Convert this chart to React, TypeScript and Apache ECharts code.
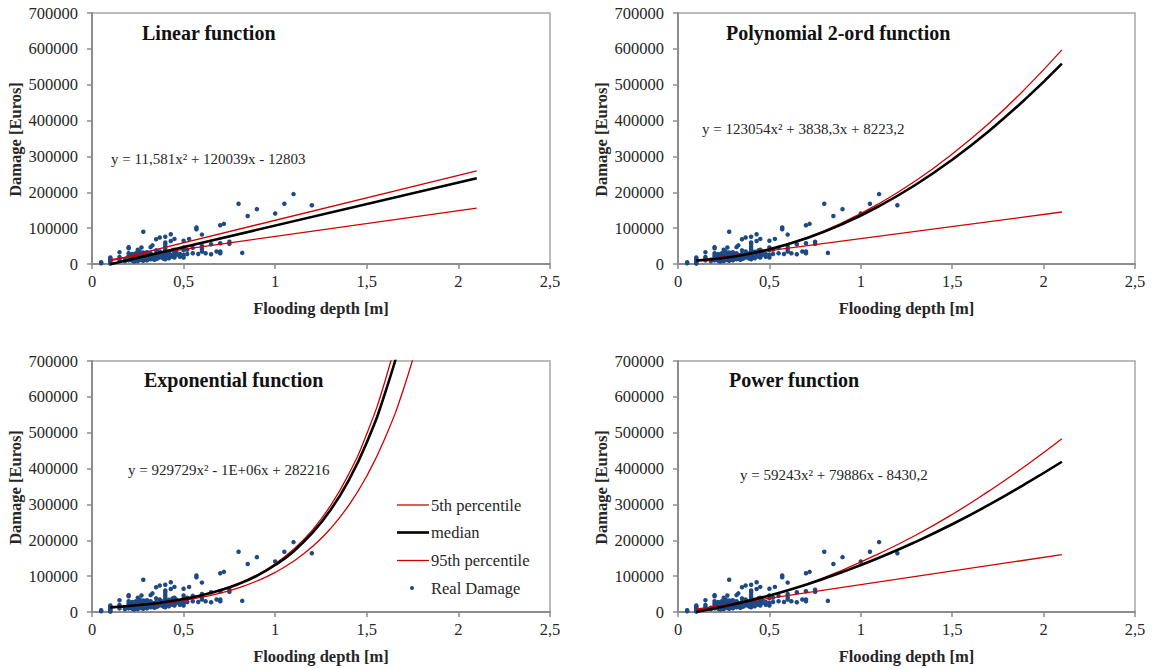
import React, { useEffect, useRef } from "react";
import * as echarts from "echarts";

const panelTitles = ["Linear function", "Polynomial 2-ord function", "Exponential function", "Power function"];
const equations = [
  "y = 11,581x² + 120039x - 12803",
  "y = 123054x² + 3838,3x + 8223,2",
  "y = 929729x² - 1E+06x + 282216",
  "y = 59243x² + 79886x - 8430,2",
];
const legendNames = ["5th percentile", "median", "95th percentile", "Real Damage"];
const xAxisTitle = "Flooding depth [m]";
const yAxisTitle = "Damage [Euros]";

// Real damage observations [depth m, damage euros]
const realDamage: [number, number][] = [
  [0.05, 5000], [0.05, 2000],
  [0.1, 18000], [0.1, 15000], [0.1, 12000], [0.1, 9000], [0.1, 6000], [0.1, 3000], [0.1, 1000],
  [0.15, 33000], [0.15, 20000], [0.15, 15000], [0.15, 10000],
  [0.18, 12000], [0.18, 8000],
  [0.2, 47000], [0.2, 44000], [0.2, 30000], [0.2, 24000], [0.2, 18000], [0.2, 14000], [0.2, 10000],
  [0.21, 20000], [0.21, 12000],
  [0.22, 28000], [0.22, 15000], [0.22, 9000],
  [0.23, 22000], [0.23, 13000], [0.23, 7000],
  [0.24, 30000], [0.24, 18000], [0.24, 10000],
  [0.25, 40000], [0.25, 25000], [0.25, 16000], [0.25, 12000], [0.25, 8000],
  [0.26, 35000], [0.26, 20000], [0.26, 14000],
  [0.27, 46000], [0.27, 28000], [0.27, 18000], [0.27, 11000],
  [0.28, 90000], [0.28, 32000], [0.28, 22000], [0.28, 15000], [0.28, 9000],
  [0.29, 25000], [0.29, 17000], [0.29, 12000],
  [0.3, 33000], [0.3, 28000], [0.3, 20000], [0.3, 15000], [0.3, 10000],
  [0.31, 22000], [0.31, 16000],
  [0.32, 47000], [0.32, 30000], [0.32, 19000], [0.32, 13000],
  [0.33, 52000], [0.33, 25000], [0.33, 15000],
  [0.34, 20000], [0.34, 12000],
  [0.35, 69000], [0.35, 38000], [0.35, 28000], [0.35, 18000], [0.35, 14000],
  [0.36, 24000], [0.36, 16000],
  [0.37, 74000], [0.37, 35000], [0.37, 20000],
  [0.38, 30000], [0.38, 18000],
  [0.39, 25000], [0.39, 15000],
  [0.4, 76000], [0.4, 60000], [0.4, 55000], [0.4, 48000], [0.4, 42000], [0.4, 36000], [0.4, 30000], [0.4, 24000], [0.4, 18000], [0.4, 13000],
  [0.41, 28000], [0.41, 20000],
  [0.42, 34000], [0.42, 16000],
  [0.43, 83000], [0.43, 64000], [0.43, 25000],
  [0.44, 38000], [0.44, 20000],
  [0.45, 70000], [0.45, 40000], [0.45, 30000], [0.45, 18000],
  [0.46, 35000], [0.46, 25000],
  [0.48, 28000], [0.48, 20000],
  [0.5, 65000], [0.5, 46000], [0.5, 38000], [0.5, 25000], [0.5, 18000],
  [0.52, 40000], [0.52, 28000],
  [0.53, 70000],
  [0.55, 45000], [0.55, 30000],
  [0.57, 102000], [0.57, 97000],
  [0.58, 28000],
  [0.6, 82000], [0.6, 50000], [0.6, 42000], [0.6, 35000],
  [0.62, 30000],
  [0.65, 55000], [0.65, 27000],
  [0.68, 35000],
  [0.7, 108000], [0.7, 58000], [0.7, 35000], [0.7, 30000],
  [0.72, 112000],
  [0.75, 62000], [0.75, 56000],
  [0.8, 168000], [0.82, 31000], [0.85, 134000], [0.9, 153000],
  [1.0, 141000], [1.05, 168000], [1.1, 195000], [1.2, 164000],
];

// Linear function curves
const linDepth = [0.1, 2.1];
const linP5 = [12000, 156000];
const linMedian = [-800, 239300];
const linP95 = [9000, 260000];

// Polynomial 2-ord curves
const polyDepth = [0.1, 0.3, 0.5, 0.7, 0.9, 1.1, 1.3, 1.5, 1.7, 1.9, 2.1];
const polyMedian = [9800, 20400, 40900, 71200, 111400, 161300, 221000, 290900, 370400, 459700, 559000];
const polyP95 = [8000, 19500, 41000, 73000, 115500, 168500, 232000, 307000, 392000, 489000, 597000];
const polyP5Depth = [0.1, 2.1];
const polyP5 = [10000, 145000];

// Exponential curves
const expDepth = [0.1, 0.2, 0.3, 0.4, 0.5, 0.6, 0.7, 0.8, 0.9, 1.0, 1.1, 1.2, 1.3, 1.4, 1.5, 1.6, 1.7, 1.8];
const expMedian = [13000, 16700, 21600, 28000, 36000, 46800, 60500, 78000, 101000, 131000, 169000, 219000, 283000, 366000, 473000, 611000, 790000, 1020000];
const expP95 = [13500, 17300, 22200, 28600, 36900, 47700, 61700, 79800, 103500, 134500, 175000, 227000, 295000, 383000, 497000, 645000, 838000, 1080000];
const expP5 = [12000, 15400, 19700, 25200, 32200, 41200, 52800, 67500, 86400, 110600, 141500, 181000, 231600, 296500, 379400, 485500, 621300, 795000];

// Power function curves
const powDepth = [0.1, 0.3, 0.5, 0.7, 0.9, 1.1, 1.3, 1.5, 1.7, 1.9, 2.1];
const powMedian = [200, 21000, 46000, 76000, 111500, 151100, 195600, 244700, 298500, 357000, 419000];
const powP95 = [5000, 22000, 45000, 77000, 117000, 163000, 214000, 272000, 337000, 407000, 483000];
const powP5Depth = [0.1, 2.1];
const powP5 = [8000, 160000];

const zip = (xs: number[], ys: number[]) => xs.map((x, i) => [x, ys[i]]);

const FONT = "'Liberation Serif', 'Times New Roman', serif";
const TEXT = "#262626";
const AXIS = "#8c8c8c";
const RED = "#d00000";
const BLUE = "#1d4a86";

const grids = [
  { left: 92, top: 13, width: 458, height: 251 },
  { left: 678, top: 13, width: 457, height: 251 },
  { left: 92, top: 361, width: 458, height: 251 },
  { left: 678, top: 361, width: 457, height: 251 },
];

const panelCurves = [
  { p5: zip(linDepth, linP5), med: zip(linDepth, linMedian), p95: zip(linDepth, linP95), smooth: false },
  { p5: zip(polyP5Depth, polyP5), med: zip(polyDepth, polyMedian), p95: zip(polyDepth, polyP95), smooth: true },
  { p5: zip(expDepth, expP5), med: zip(expDepth, expMedian), p95: zip(expDepth, expP95), smooth: true },
  { p5: zip(powP5Depth, powP5), med: zip(powDepth, powMedian), p95: zip(powDepth, powP95), smooth: true },
];

const titlePos = [
  [142, 33], [726, 33], [144, 380], [729, 380],
];
const eqPos = [
  [111, 159], [702, 129], [128, 470], [740, 475],
];

export default function App() {
  const ref = useRef<HTMLDivElement>(null);
  useEffect(() => {
    if (!ref.current) return;
    const chart = echarts.init(ref.current, undefined, { renderer: "svg" });

    const xAxis = grids.map((_, i) => ({
      type: "value",
      gridIndex: i,
      min: 0,
      max: 2.5,
      interval: 0.5,
      axisLine: { show: true, onZero: false, lineStyle: { color: AXIS, width: 2 } },
      axisTick: { show: true, length: 5, lineStyle: { color: AXIS, width: 1.5 } },
      axisLabel: {
        margin: 9,
        fontSize: 16.5,
        fontFamily: FONT,
        color: TEXT,
        formatter: (v: number) => String(v).replace(".", ","),
      },
      splitLine: { show: false },
    }));
    const yAxis = grids.map((_, i) => ({
      type: "value",
      gridIndex: i,
      min: 0,
      max: 700000,
      interval: 100000,
      axisLine: { show: true, onZero: false, lineStyle: { color: AXIS, width: 2 } },
      axisTick: { show: true, length: 5, lineStyle: { color: AXIS, width: 1.5 } },
      axisLabel: {
        margin: 14,
        fontSize: 16.5,
        fontFamily: FONT,
        color: TEXT,
        formatter: (v: number) => String(Math.round(v)),
      },
      splitLine: { show: false },
    }));

    const series: any[] = [];
    panelCurves.forEach((c, i) => {
      series.push({
        type: "scatter",
        name: legendNames[3],
        xAxisIndex: i,
        yAxisIndex: i,
        symbolSize: 4.5,
        itemStyle: { color: BLUE, opacity: 1 },
        data: realDamage,
      });
      series.push({
        type: "line",
        name: legendNames[0],
        xAxisIndex: i,
        yAxisIndex: i,
        symbol: "none",
        smooth: c.smooth,
        lineStyle: { color: RED, width: 1.3 },
        data: c.p5,
      });
      series.push({
        type: "line",
        name: legendNames[2],
        xAxisIndex: i,
        yAxisIndex: i,
        symbol: "none",
        smooth: c.smooth,
        lineStyle: { color: RED, width: 1.3 },
        data: c.p95,
      });
      series.push({
        type: "line",
        name: legendNames[1],
        xAxisIndex: i,
        yAxisIndex: i,
        symbol: "none",
        smooth: c.smooth,
        lineStyle: { color: "#000", width: 2.6 },
        data: c.med,
      });
    });

    const graphics: any[] = [];
    grids.forEach((g, i) => {
      graphics.push({
        type: "text",
        x: titlePos[i][0],
        y: titlePos[i][1],
        style: { text: panelTitles[i], fontFamily: FONT, fontWeight: "bold", fontSize: 20, fill: "#111", align: "left", verticalAlign: "middle" },
      });
      graphics.push({
        type: "text",
        x: eqPos[i][0],
        y: eqPos[i][1],
        style: { text: equations[i], fontFamily: FONT, fontSize: 15, fill: TEXT, align: "left", verticalAlign: "middle" },
      });
      graphics.push({
        type: "text",
        x: g.left + g.width / 2,
        y: g.top + g.height + 44,
        style: { text: xAxisTitle, fontFamily: FONT, fontWeight: "bold", fontSize: 16.5, fill: TEXT, align: "center", verticalAlign: "middle" },
      });
      graphics.push({
        type: "text",
        x: g.left - 77,
        y: g.top + g.height / 2 + 1,
        rotation: Math.PI / 2,
        style: { text: yAxisTitle, fontFamily: FONT, fontWeight: "bold", fontSize: 16.5, fill: TEXT, align: "center", verticalAlign: "middle" },
      });
    });

    // legend (inside the exponential panel)
    const legY = [505, 532.5, 560.5, 588];
    const legColors = [RED, "#000", RED];
    const legWidths = [1.3, 2.6, 1.3];
    for (let k = 0; k < 3; k++) {
      graphics.push({
        type: "line",
        shape: { x1: 397, y1: legY[k], x2: 429, y2: legY[k] },
        style: { stroke: legColors[k], lineWidth: legWidths[k] },
      });
    }
    graphics.push({ type: "circle", shape: { cx: 412, cy: legY[3], r: 2 }, style: { fill: BLUE } });
    legendNames.forEach((n, k) => {
      graphics.push({
        type: "text",
        x: 431,
        y: legY[k],
        style: { text: n, fontFamily: FONT, fontSize: 16.5, fill: TEXT, align: "left", verticalAlign: "middle" },
      });
    });

    chart.setOption({
      animation: false,
      backgroundColor: "#fff",
      grid: grids.map((g) => ({ ...g, show: true, borderColor: "#a6a6a6", borderWidth: 1.5, backgroundColor: "transparent" })),
      xAxis,
      yAxis,
      series,
      graphic: graphics,
    });
    return () => chart.dispose();
  }, []);
  return (
    <div
      ref={ref}
      style={{ position: "absolute", left: 0, top: 0, width: 1157, height: 669 }}
    />
  );
}
